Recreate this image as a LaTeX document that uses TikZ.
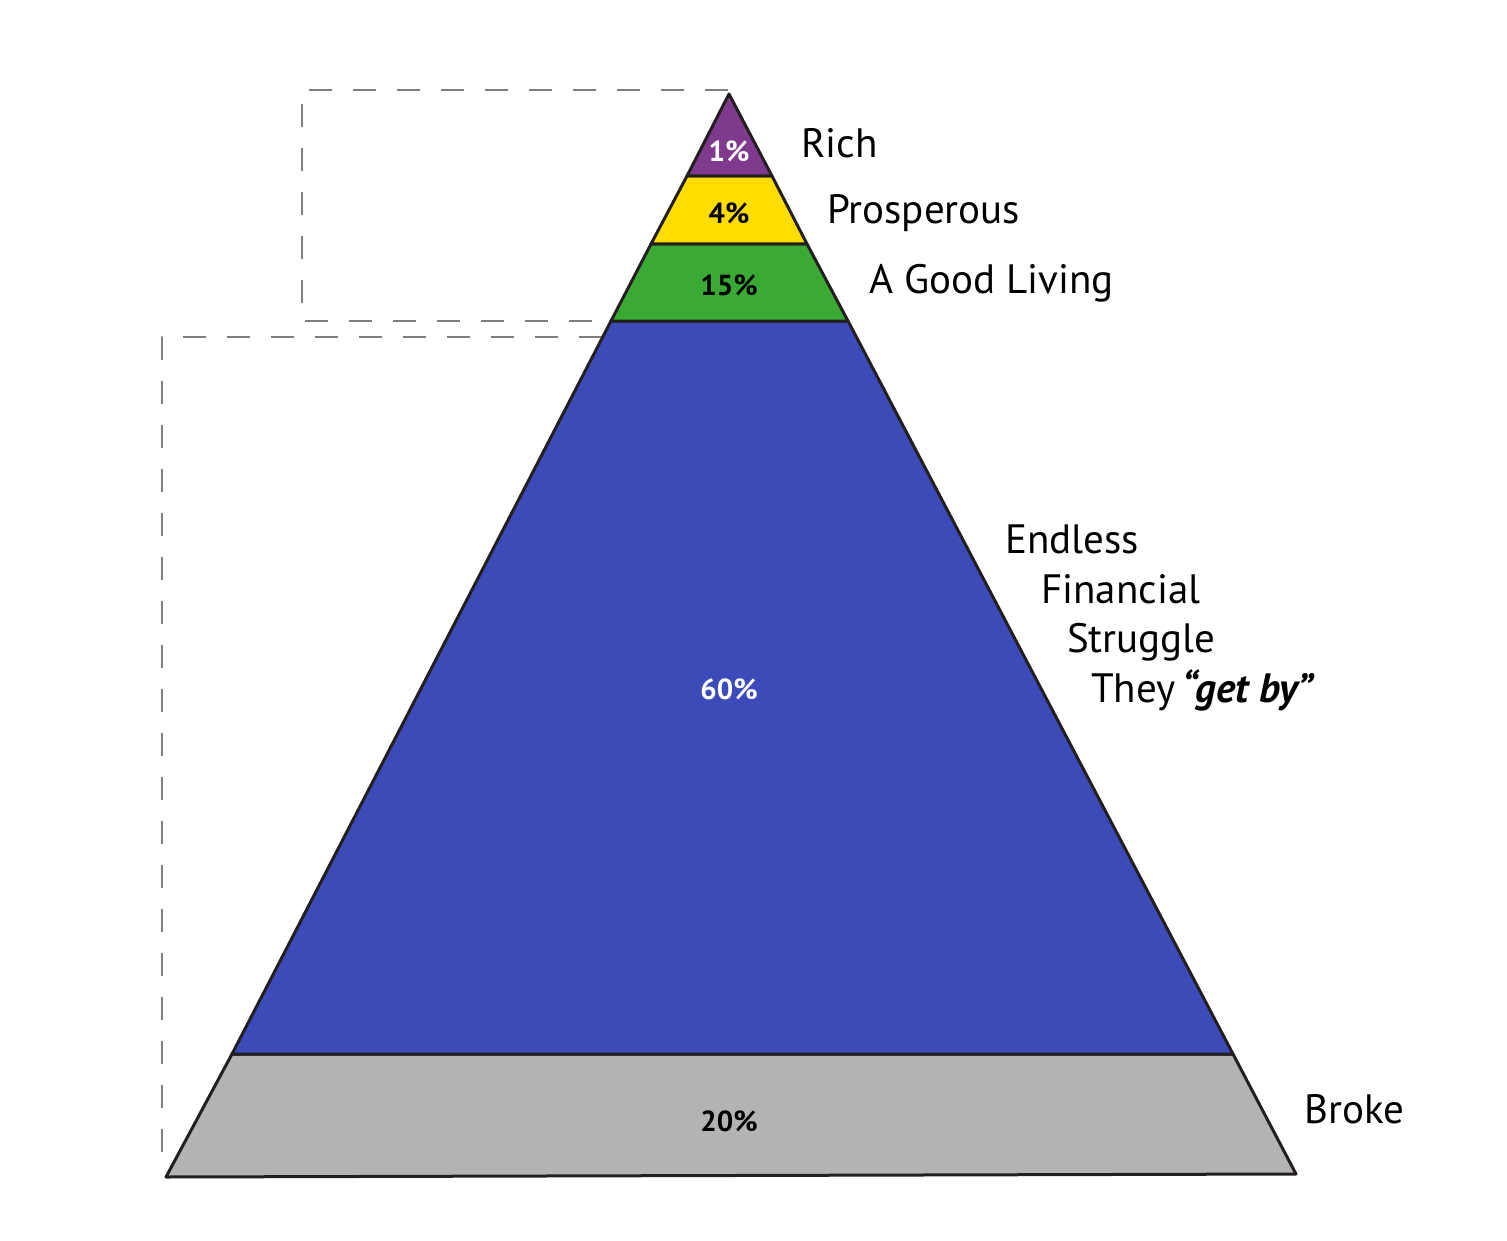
\documentclass[tikz,border=0pt]{standalone}
\usepackage{fontspec}
\setmainfont{PT Sans}
\definecolor{cRich}{HTML}{7F3A8E}
\definecolor{cPros}{HTML}{FFDD00}
\definecolor{cGood}{HTML}{3BAA35}
\definecolor{cMid}{HTML}{3C4BB7}
\definecolor{cBroke}{HTML}{B3B3B3}
\definecolor{cEdge}{HTML}{231F20}
\definecolor{cDash}{HTML}{808080}
\begin{document}
\begin{tikzpicture}[x=1pt,y=-1pt,
  layer/.style={draw=cEdge,line width=3pt,line join=round},
  guide/.style={draw=cDash,line width=2pt,dash pattern=on 23pt off 21pt},
  pct/.style={font=\fontsize{29}{33}\selectfont\bfseries},
  lab/.style={font=\fontsize{41}{47}\selectfont,anchor=base west,inner sep=0pt}]
\useasboundingbox (0,0) rectangle (1507,1241);
% key points
\coordinate (apex) at (729,94);
\coordinate (l1) at (687,176); \coordinate (r1) at (772,176);
\coordinate (l2) at (651,244); \coordinate (r2) at (807,244);
\coordinate (l3) at (611,321); \coordinate (r3) at (848,321);
\coordinate (l4) at (232,1054); \coordinate (r4) at (1233,1054);
\coordinate (bl) at (166,1177); \coordinate (br) at (1296,1174);
% dashed guides
\coordinate (g1a) at (728,90); \coordinate (g1b) at (302,90);
\coordinate (g1c) at (302,321); \coordinate (g1d) at (611,321);
\draw[guide] (g1a) -- (g1b) -- (g1c) -- (g1d);
\coordinate (g2a) at (602,337); \coordinate (g2b) at (162,337);
\coordinate (g2c) at (162,1162);
\draw[guide] (g2a) -- (g2b) -- (g2c);
% layers
\path[layer,fill=cBroke] (l4) -- (r4) -- (br) -- (bl) -- cycle;
\path[layer,fill=cMid] (l3) -- (r3) -- (r4) -- (l4) -- cycle;
\path[layer,fill=cGood] (l2) -- (r2) -- (r3) -- (l3) -- cycle;
\path[layer,fill=cPros] (l1) -- (r1) -- (r2) -- (l2) -- cycle;
\path[layer,fill=cRich] (apex) -- (r1) -- (l1) -- cycle;
% percentages
\node[pct,text=white] (p1) at (729,151) {1\%};
\node[pct] (p4) at (729,213) {4\%};
\node[pct] (p15) at (729,285) {15\%};
\node[pct,text=white] (p60) at (729,689) {60\%};
\node[pct] (p20) at (729,1121) {20\%};
% labels
\node[lab] (tRich) at (801,158) {Rich};
\node[lab] (tPros) at (827,224) {Prosperous};
\node[lab] (tGood) at (869,294) {A Good Living};
\node[lab] (tE1) at (1005,553) {Endless};
\node[lab] (tE2) at (1041,603) {Financial};
\node[lab] (tE3) at (1067,652) {Struggle};
\node[lab] (tE4) at (1091,702) {They\,\textbf{\textit{``get by''}}};
\node[lab] (tBroke) at (1304,1123) {Broke};
\end{tikzpicture}
\end{document}
